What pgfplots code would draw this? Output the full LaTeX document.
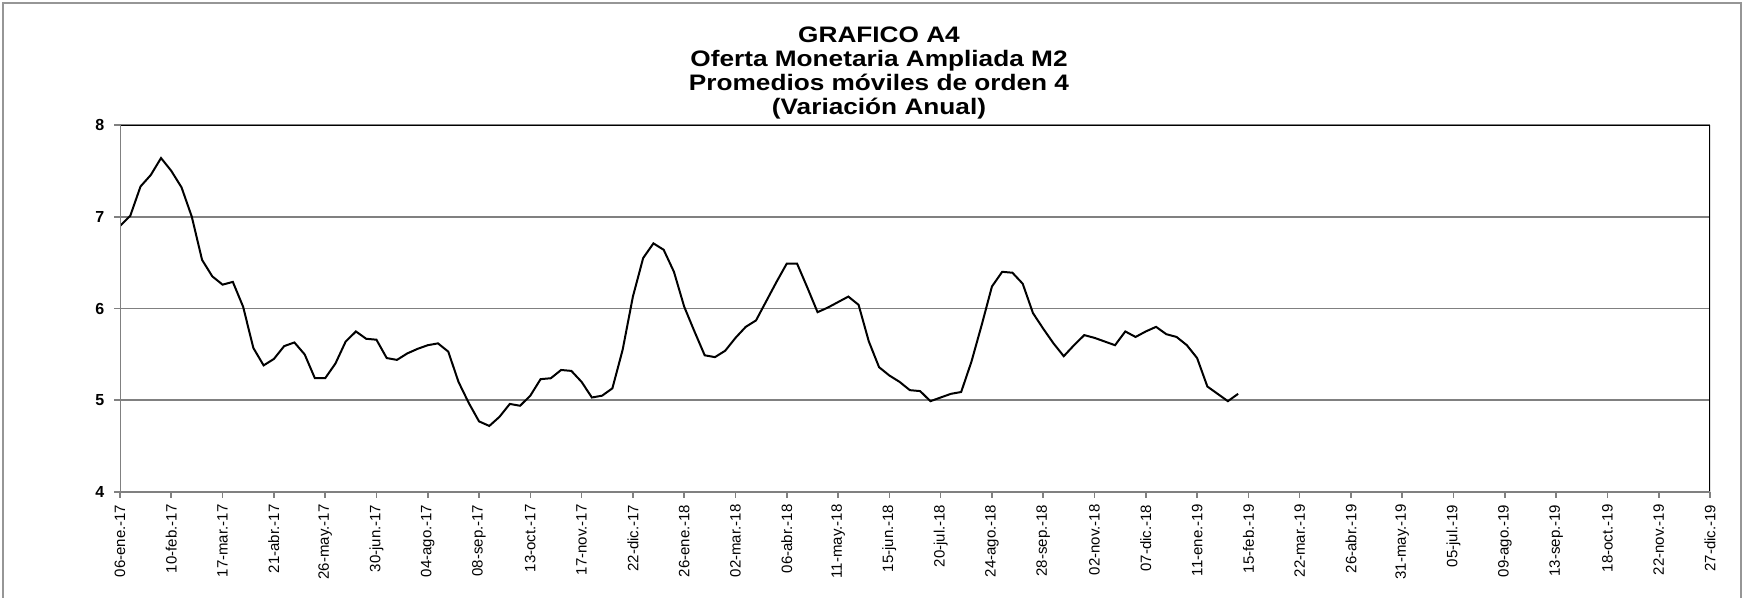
\documentclass[border=0pt]{standalone}
\usepackage{fontspec}
\setmainfont{Liberation Sans}
\newfontfamily\titlefont{Liberation Sans}[FakeStretch=1.17]
\usepackage{pgfplots}
\pgfplotsset{compat=1.18}
\definecolor{gridgray}{RGB}{128,128,128}
\definecolor{framegray}{RGB}{150,150,150}

\pgfplotstableread{
x y
0 6.90
1 7.01
2 7.33
3 7.455
4 7.64
5 7.50
6 7.32
7 7.00
8 6.53
9 6.35
10 6.26
11 6.29
12 6.02
13 5.57
14 5.38
15 5.45
16 5.59
17 5.63
18 5.50
19 5.24
20 5.24
21 5.40
22 5.64
23 5.75
24 5.67
25 5.66
26 5.46
27 5.44
28 5.51
29 5.56
30 5.60
31 5.62
32 5.53
33 5.20
34 4.97
35 4.77
36 4.72
37 4.82
38 4.96
39 4.94
40 5.05
41 5.23
42 5.24
43 5.33
44 5.32
45 5.20
46 5.03
47 5.05
48 5.13
49 5.55
50 6.13
51 6.55
52 6.71
53 6.64
54 6.40
55 6.02
56 5.75
57 5.49
58 5.47
59 5.54
60 5.68
61 5.80
62 5.87
63 6.08
64 6.29
65 6.49
66 6.49
67 6.23
68 5.96
69 6.01
70 6.07
71 6.13
72 6.04
73 5.64
74 5.36
75 5.27
76 5.20
77 5.11
78 5.10
79 4.99
80 5.03
81 5.07
82 5.09
83 5.42
84 5.82
85 6.24
86 6.40
87 6.39
88 6.27
89 5.95
90 5.78
91 5.62
92 5.48
93 5.60
94 5.71
95 5.68
96 5.64
97 5.60
98 5.75
99 5.69
100 5.75
101 5.80
102 5.72
103 5.69
104 5.60
105 5.46
106 5.15
107 5.07
108 4.99
109 5.07
}\mdata

\begin{document}
\begin{tikzpicture}
\path[use as bounding box] (0,0) rectangle (872bp,-299bp);
\draw[framegray, line width=1bp] (1.6bp,-300bp) -- (1.6bp,-1.6bp) -- (870.4bp,-1.6bp) -- (870.4bp,-300bp);
\begin{scope}[every node/.style={anchor=base, inner sep=0pt, font=\titlefont\bfseries\fontsize{11.2bp}{12bp}\selectfont}]
\node at (439.5bp,-21.4bp) {GRAFICO A4};
\node at (439.5bp,-33.3bp) {Oferta Monetaria Ampliada M2};
\node at (439.5bp,-45.2bp) {Promedios móviles de orden 4};
\node at (439.5bp,-57.2bp) {(Variación Anual)};
\end{scope}
\begin{axis}[
  at={(60bp,-246bp)}, anchor=south west,
  width=795bp, height=183.5bp, scale only axis,
  xmin=0, xmax=155, ymin=4, ymax=8,
  xtick={0,5,...,155},
  xticklabels={06-ene.-17,10-feb.-17,17-mar.-17,21-abr.-17,26-may.-17,30-jun.-17,04-ago.-17,08-sep.-17,13-oct.-17,17-nov.-17,22-dic.-17,26-ene.-18,02-mar.-18,06-abr.-18,11-may.-18,15-jun.-18,20-jul.-18,24-ago.-18,28-sep.-18,02-nov.-18,07-dic.-18,11-ene.-19,15-feb.-19,22-mar.-19,26-abr.-19,31-may.-19,05-jul.-19,09-ago.-19,13-sep.-19,18-oct.-19,22-nov.-19,27-dic.-19},
  ytick={4,5,6,7,8},
  xtick pos=bottom, ytick pos=left,
  ymajorgrids, grid style={gridgray, line width=0.8bp},
  axis line style={draw=none},
  tick align=outside, major tick length=2.8bp,
  tick style={gridgray, line width=0.8bp},
  x tick label style={rotate=90, anchor=east, font=\fontsize{7.5bp}{8bp}\selectfont},
  y tick label style={font=\fontsize{8bp}{9bp}\selectfont\bfseries, xshift=-1.5bp},
  /pgf/number format/assume math mode=true,
]
\addplot[black, line width=1bp, mark=none] table[x=x,y=y] {\mdata};
\draw[black, line width=1.1bp] (rel axis cs:0,1) -- (rel axis cs:1,1);
\draw[black, line width=0.6bp] (rel axis cs:1,0) -- (rel axis cs:1,1);
\draw[gridgray, line width=1.1bp] (rel axis cs:0,1) -- (rel axis cs:0,0) -- (rel axis cs:1,0);
\end{axis}
\end{tikzpicture}
\end{document}
